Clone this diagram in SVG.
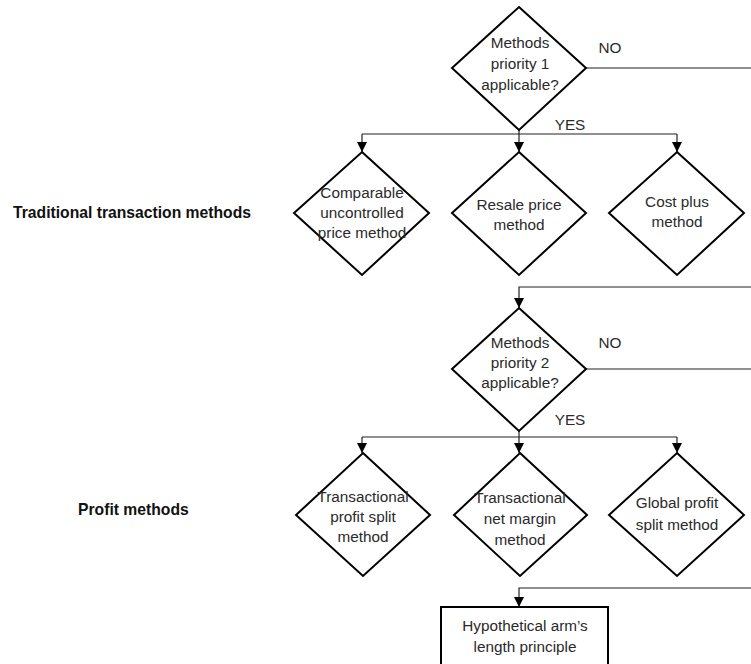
<svg xmlns="http://www.w3.org/2000/svg" width="751" height="664" viewBox="0 0 751 664">
<style>
.d{fill:#fff;stroke:#000;stroke-width:2}
.c{fill:none;stroke:#222;stroke-width:1.2}
.t{font-family:"Liberation Sans",Arial,sans-serif;font-size:15.3px;fill:#2a2a2a;text-anchor:middle}
.l{font-family:"Liberation Sans",Arial,sans-serif;font-size:15.7px;font-weight:bold;fill:#111}
</style>
<defs>
<marker id="a" viewBox="0 0 10 10" refX="10" refY="5" markerWidth="10" markerHeight="10" markerUnits="userSpaceOnUse" orient="auto">
<path d="M0,0 L10,5 L0,10 Z" fill="#000"/>
</marker>
</defs>
<rect width="751" height="664" fill="#fff"/>
<g id="connectors">
<path class="c" d="M586,68 H751"/>
<path class="c" d="M519,130 V134"/>
<path class="c" d="M362,134 H677"/>
<path class="c" d="M362,134 V152" marker-end="url(#a)"/>
<path class="c" d="M519,134 V152" marker-end="url(#a)"/>
<path class="c" d="M677,134 V152" marker-end="url(#a)"/>
<path class="c" d="M751,287 H519 V308" marker-end="url(#a)"/>
<path class="c" d="M586,369 H751"/>
<path class="c" d="M519,431 V437"/>
<path class="c" d="M362,437 H677"/>
<path class="c" d="M362,437 V453" marker-end="url(#a)"/>
<path class="c" d="M519,437 V453" marker-end="url(#a)"/>
<path class="c" d="M677,437 V453" marker-end="url(#a)"/>
<path class="c" d="M751,588 H519 V607" marker-end="url(#a)"/>
<text class="t" x="610" y="53">NO</text>
<text class="t" x="570" y="130">YES</text>
<text class="t" x="610" y="348">NO</text>
<text class="t" x="570" y="425">YES</text>
</g>
<g id="label-traditional"><text class="l" x="13" y="218">Traditional transaction methods</text></g>
<g id="label-profit"><text class="l" x="78" y="515">Profit methods</text></g>
<g id="q1">
<path class="d" d="M519,7 L586,68 L519,130 L452,68 Z"/>
<text class="t" x="520" y="48">Methods</text>
<text class="t" x="520" y="69">priority 1</text>
<text class="t" x="520" y="90">applicable?</text>
</g>
<g id="cup">
<path class="d" d="M362,152 L429,213 L362,275 L294,213 Z"/>
<text class="t" x="362" y="198">Comparable</text>
<text class="t" x="362" y="218">uncontrolled</text>
<text class="t" x="362" y="238">price method</text>
</g>
<g id="resale">
<path class="d" d="M519,152 L586,213 L519,275 L452,213 Z"/>
<text class="t" x="519" y="210">Resale price</text>
<text class="t" x="519" y="230">method</text>
</g>
<g id="costplus">
<path class="d" d="M677,152 L744,213 L677,275 L609,213 Z"/>
<text class="t" x="677" y="207">Cost plus</text>
<text class="t" x="677" y="227">method</text>
</g>
<g id="q2">
<path class="d" d="M519,308 L586,369 L519,431 L452,369 Z"/>
<text class="t" x="520" y="348">Methods</text>
<text class="t" x="520" y="368">priority 2</text>
<text class="t" x="520" y="388">applicable?</text>
</g>
<g id="tps">
<path class="d" d="M363,453 L430,515 L363,576 L296,515 Z"/>
<text class="t" x="363" y="502">Transactional</text>
<text class="t" x="363" y="522">profit split</text>
<text class="t" x="363" y="542">method</text>
</g>
<g id="tnm">
<path class="d" d="M520,453 L587,515 L520,576 L454,515 Z"/>
<text class="t" x="520" y="503">Transactional</text>
<text class="t" x="520" y="524">net margin</text>
<text class="t" x="520" y="545">method</text>
</g>
<g id="gps">
<path class="d" d="M677,453 L744,515 L677,576 L609,515 Z"/>
<text class="t" x="677" y="508">Global profit</text>
<text class="t" x="677" y="530">split method</text>
</g>
<g id="hal">
<rect class="d" x="441" y="607" width="167" height="70"/>
<text class="t" x="525" y="631">Hypothetical arm’s</text>
<text class="t" x="525" y="652">length principle</text>
</g>
</svg>
